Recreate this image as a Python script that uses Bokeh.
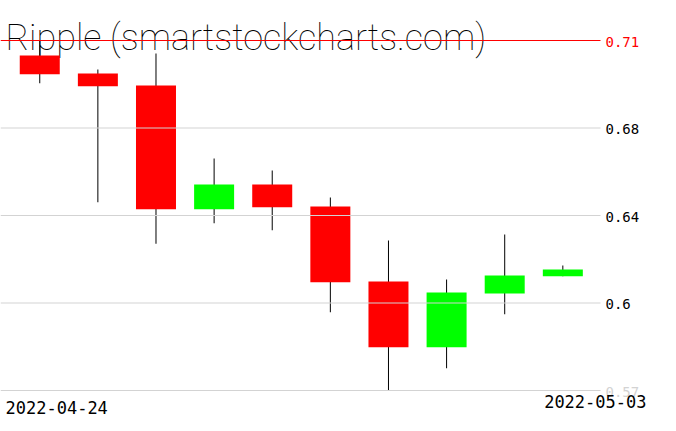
from bokeh.plotting import figure
from bokeh.models import Range1d, Label
from bokeh.core.properties import value
from bokeh.embed import file_html
from bokeh.resources import INLINE

# ---- data ----
dates = ["2022-04-24", "2022-04-25", "2022-04-26", "2022-04-27", "2022-04-28",
         "2022-04-29", "2022-04-30", "2022-05-01", "2022-05-02", "2022-05-03"]
opens = [0.7040, 0.6968, 0.6920, 0.6425, 0.6524, 0.6436, 0.6136, 0.5873, 0.6088, 0.6157]
highs = [0.7100, 0.6984, 0.7048, 0.6628, 0.6580, 0.6472, 0.6300, 0.6144, 0.6324, 0.6200]
lows = [0.6929, 0.6453, 0.6287, 0.6369, 0.6341, 0.6013, 0.5700, 0.5789, 0.6005, 0.6157]
closes = [0.6965, 0.6917, 0.6425, 0.6524, 0.6433, 0.6133, 0.5873, 0.6092, 0.6160, 0.6184]
tick_values = [0.57, 0.605, 0.64, 0.675, 0.71]
tick_labels = ["0.57", "0.6", "0.64", "0.68", "0.71"]
title_text = "Ripple (smartstockcharts.com)"

# ---- layout ----
W, H = 660, 422
X0, DX = 39.25, 58.12          # canvas px of first candle, px per candle
Y_BASE_PX = 390.0              # canvas px (from top) of lowest tick
PX_PER_UNIT = 2500.0
vmin = tick_values[0]

p = figure(width=W, height=H, output_backend="svg", toolbar_location=None,
           x_axis_type=None, y_axis_type=None, min_border=0,
           x_range=Range1d(-X0 / DX, (W - X0) / DX),
           y_range=Range1d(vmin - (H - Y_BASE_PX) / PX_PER_UNIT, vmin + Y_BASE_PX / PX_PER_UNIT))
p.outline_line_color = None
p.background_fill_color = "white"
p.border_fill_color = "white"

# title (under everything)
p.add_layout(Label(x=5, y=H - 37.7, x_units="screen", y_units="screen", text=title_text,
                   text_font="Roboto Thin", text_font_size="36px", text_color="black",
                   text_baseline="alphabetic", text_align="left", level="underlay"))

idx = list(range(len(dates)))
up = [c >= o for o, c in zip(opens, closes)]
colors = ["#00ff00" if u else "#ff0000" for u in up]
tops = [max(o, c) for o, c in zip(opens, closes)]
bots = [min(o, c) for o, c in zip(opens, closes)]

p.segment(x0=idx, y0=lows, x1=idx, y1=highs, line_color="black", line_width=1)
p.vbar(x=idx, width=40 / DX, top=tops, bottom=bots, fill_color=colors, line_color=None)

# horizontal grid lines
gl = (0 - X0) / DX
gr = (600 - X0) / DX
grid_colors = ["#d3d3d3"] * (len(tick_values) - 1) + ["#ff0000"]
p.segment(x0=[gl] * len(tick_values), x1=[gr] * len(tick_values), y0=tick_values, y1=tick_values,
          line_color=grid_colors, line_width=1)

# y labels on the right
label_colors = ["#d3d3d3"] + ["black"] * (len(tick_values) - 2) + ["#ff0000"]
lx = (605 - X0) / DX
p.text(x=[lx] * len(tick_values), y=tick_values, text=tick_labels, text_color=label_colors,
       text_font=value("DejaVu Sans Mono"), text_font_size="14px",
       text_align="left", text_baseline="alphabetic", y_offset=1)

# date labels
p.text(x=[0], y=[vmin], text=[dates[0]], text_font=value("DejaVu Sans Mono"), text_font_size="17px",
       text_color="black", text_align="left", text_baseline="alphabetic", x_offset=5 - X0, y_offset=16.7)
p.text(x=[len(dates) - 1], y=[vmin], text=[dates[-1]], text_font=value("DejaVu Sans Mono"),
       text_font_size="17px", text_color="black", text_align="right", text_baseline="alphabetic",
       x_offset=646 - (X0 + DX * (len(dates) - 1)), y_offset=10.7)

open("out.html", "w").write(file_html(p, INLINE))
